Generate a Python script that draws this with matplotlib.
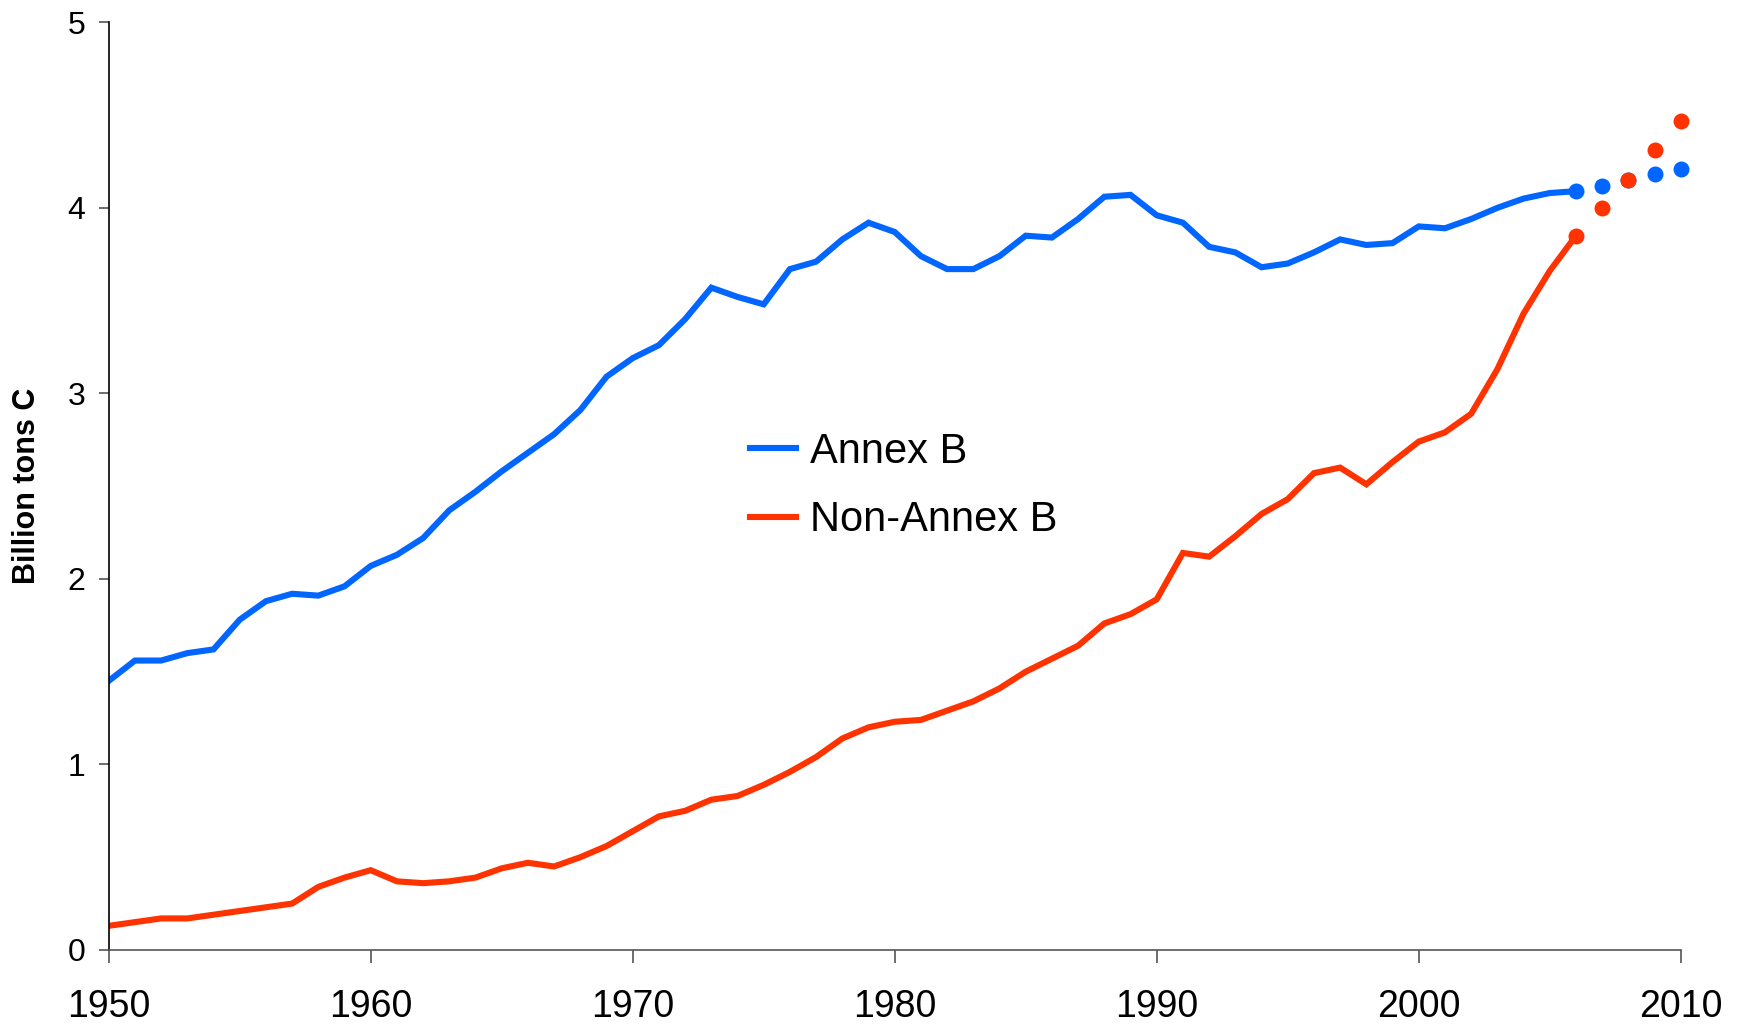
"""
Fossil-fuel carbon emissions, Annex B vs Non-Annex B countries, 1950-2010
"""

import matplotlib.pyplot as plt
import numpy as np

plt.rcParams['font.family'] = ['Liberation Sans', 'DejaVu Sans']

# observed annual values (billion tons C)
years = list(range(1950, 2007))
annex_b = [1.45, 1.56, 1.56, 1.60, 1.62, 1.78, 1.88, 1.92, 1.91, 1.96,
           2.07, 2.13, 2.22, 2.37, 2.47, 2.58, 2.68, 2.78, 2.91, 3.09,
           3.19, 3.26, 3.40, 3.57, 3.52, 3.48, 3.67, 3.71, 3.83, 3.92,
           3.87, 3.74, 3.67, 3.67, 3.74, 3.85, 3.84, 3.94, 4.06, 4.07,
           3.96, 3.92, 3.79, 3.76, 3.68, 3.70, 3.76, 3.83, 3.80, 3.81,
           3.90, 3.89, 3.94, 4.00, 4.05, 4.08, 4.09]
non_annex_b = [0.13, 0.15, 0.17, 0.17, 0.19, 0.21, 0.23, 0.25, 0.34, 0.39,
               0.43, 0.37, 0.36, 0.37, 0.39, 0.44, 0.47, 0.45, 0.50, 0.56,
               0.64, 0.72, 0.75, 0.81, 0.83, 0.89, 0.96, 1.04, 1.14, 1.20,
               1.23, 1.24, 1.29, 1.34, 1.41, 1.50, 1.57, 1.64, 1.76, 1.81,
               1.89, 2.14, 2.12, 2.23, 2.35, 2.43, 2.57, 2.60, 2.51, 2.63,
               2.74, 2.79, 2.89, 3.13, 3.43, 3.66, 3.85]

# projected / estimated points shown as dots
dot_years = [2006, 2007, 2008, 2009, 2010]
annex_b_dots = [4.09, 4.12, 4.15, 4.18, 4.21]
non_annex_b_dots = [3.85, 4.00, 4.15, 4.31, 4.47]

blue = '#0066FF'
red = '#FF3300'

fig = plt.figure(figsize=(17.39, 10.25), dpi=100)
ax = fig.add_axes([0.0625, 0.0732, 0.904, 0.905])

ax.plot(years, annex_b, color=blue, lw=4.4, label='Annex B', solid_joinstyle='miter')
ax.plot(years, non_annex_b, color=red, lw=4.4, label='Non-Annex B', solid_joinstyle='miter')
ax.plot(dot_years, annex_b_dots, 'o', color=blue, ms=11.5, mew=0, clip_on=False)
ax.plot(dot_years, non_annex_b_dots, 'o', color=red, ms=11.5, mew=0, clip_on=False)

ax.set_xlim(1950, 2010)
ax.set_ylim(0, 5)
ax.set_xticks(np.arange(1950, 2011, 10))
ax.set_yticks(np.arange(0, 6, 1))

ax.spines['top'].set_visible(False)
ax.spines['right'].set_visible(False)
ax.spines['left'].set_color('black')
ax.spines['bottom'].set_color('#555555')
ax.spines['left'].set_linewidth(1.2)
ax.spines['bottom'].set_linewidth(1.2)

ax.tick_params(axis='x', direction='out', length=9, width=1.2, color='#555555',
               labelsize=27, pad=19)
ax.tick_params(axis='y', direction='out', length=7, width=1.2, color='#555555',
               labelsize=23, pad=10)

ax.set_ylabel('Billion tons C', fontsize=22, fontweight='bold', labelpad=18)

ax.legend(loc='center left', bbox_to_anchor=(750 / 1739, 1 - 486 / 1025),
          bbox_transform=fig.transFigure, frameon=False, fontsize=30,
          handlelength=1.1, handletextpad=0.35, labelspacing=0.68,
          borderpad=0, borderaxespad=0)

plt.savefig('out.png', dpi=100)
